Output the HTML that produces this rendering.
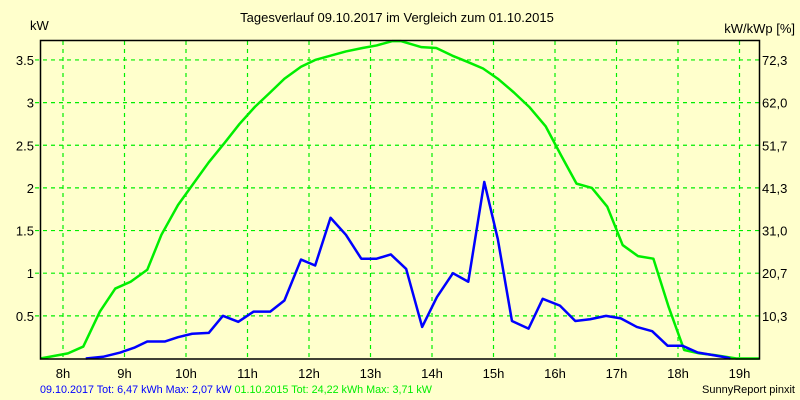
<!DOCTYPE html>
<html><head><meta charset="utf-8"><style>
body{margin:0;background:#ffffcc;}
svg{display:block;font-family:"Liberation Sans",sans-serif;}
</style></head><body>
<svg id="c" width="800" height="400" viewBox="0 0 800 400">
<rect x="0" y="0" width="800" height="400" fill="#ffffcc"/>
<text x="397" y="22" font-size="13" text-anchor="middle">Tagesverlauf 09.10.2017 im Vergleich zum 01.10.2015</text>
<text x="30" y="30" font-size="13">kW</text>
<text x="795" y="33" font-size="13" text-anchor="end">kW/kWp [%]</text>
<g id="grid"></g>
<g id="series"></g>
<rect x="40.5" y="40.5" width="719" height="318.5" fill="none" stroke="#000" stroke-width="1.5"/>
<text x="40" y="393" font-size="11" textLength="392" lengthAdjust="spacingAndGlyphs"><tspan fill="#0000ff">09.10.2017 Tot: 6,47 kWh Max: 2,07 kW </tspan><tspan fill="#00ee00">01.10.2015 Tot: 24,22 kWh Max: 3,71 kW</tspan></text>
<text x="795" y="393" font-size="11" text-anchor="end">SunnyReport pinxit</text>
</svg>
<script>
const xTicks=[8,9,10,11,12,13,14,15,16,17,18,19];
const yTicks=[0.5,1,1.5,2,2.5,3,3.5];
const yLabels=["0.5","1","1.5","2","2.5","3","3.5"];
const rLabels=["10,3","20,7","31,0","41,3","51,7","62,0","72,3"];
const blueT=[8.37,8.65,8.93,9.17,9.37,9.66,9.87,10.1,10.37,10.6,10.85,11.1,11.37,11.6,11.87,12.1,12.35,12.6,12.85,13.1,13.33,13.58,13.84,14.08,14.34,14.59,14.85,15.07,15.3,15.57,15.8,16.08,16.33,16.57,16.83,17.07,17.33,17.58,17.83,18.07,18.32,18.57,18.8,18.85];
const blueV=[0,0.02,0.07,0.13,0.2,0.2,0.25,0.29,0.3,0.5,0.43,0.55,0.55,0.68,1.16,1.09,1.65,1.45,1.17,1.17,1.22,1.05,0.37,0.72,1.0,0.9,2.07,1.4,0.44,0.35,0.7,0.62,0.44,0.46,0.5,0.47,0.37,0.32,0.15,0.15,0.07,0.04,0.01,0];
const greenT=[7.63,8.08,8.33,8.6,8.85,9.1,9.37,9.6,9.87,10.12,10.37,10.63,10.87,11.12,11.37,11.6,11.87,12.1,12.35,12.6,12.87,13.1,13.35,13.5,13.83,14.07,14.33,14.57,14.83,15.07,15.33,15.58,15.85,16.1,16.35,16.6,16.85,17.1,17.35,17.6,17.85,18.1,18.35,18.6,18.95,19.32];
const greenV=[0,0.06,0.14,0.55,0.82,0.9,1.04,1.45,1.8,2.05,2.3,2.53,2.75,2.95,3.12,3.28,3.42,3.5,3.55,3.6,3.64,3.67,3.72,3.72,3.65,3.64,3.55,3.48,3.4,3.28,3.12,2.95,2.72,2.38,2.05,2.0,1.78,1.33,1.2,1.17,0.6,0.1,0.06,0.04,0,0];
const NS="http://www.w3.org/2000/svg";
const xs=h=>63+(h-8)*61.5;
const ys=v=>358.5-v*85.3;
const grid=document.getElementById('grid'),ser=document.getElementById('series');
function mk(tag,attrs,parent){const e=document.createElementNS(NS,tag);for(const k in attrs)e.setAttribute(k,attrs[k]);parent.appendChild(e);return e;}
xTicks.forEach(h=>{
 const l=mk('line',{x1:xs(h),x2:xs(h),y1:41,y2:358,stroke:'#00ee00','stroke-dasharray':'4,4','stroke-width':1.2},grid);
 
 
 const t=mk('text',{x:xs(h),y:378,'font-size':13,'text-anchor':'middle'},grid);t.textContent=h+'h';
 
 
});
yTicks.forEach((v,i)=>{
 const l=mk('line',{x1:35,x2:759,y1:ys(v),y2:ys(v),stroke:'#00ee00','stroke-dasharray':'4,4','stroke-width':1.2},grid);
 
 
 const t=mk('text',{x:34,y:ys(v)+5,'font-size':13,'text-anchor':'end'},grid);t.textContent=yLabels[i];
 
 
 const r=mk('text',{x:762,y:ys(v)+5,'font-size':13},grid);r.textContent=rLabels[i];
 
 
});
function line(T,V,col,name){
 const p=mk('polyline',{points:T.map((t,i)=>xs(t)+','+ys(V[i])).join(' '),fill:'none',stroke:col,'stroke-width':2.5,'stroke-linejoin':'round'},ser);
 
 
}
line(greenT,greenV,'#00ee00','series-2015');
line(blueT,blueV,'#0000ff','series-2017');
</script>
</body></html>
